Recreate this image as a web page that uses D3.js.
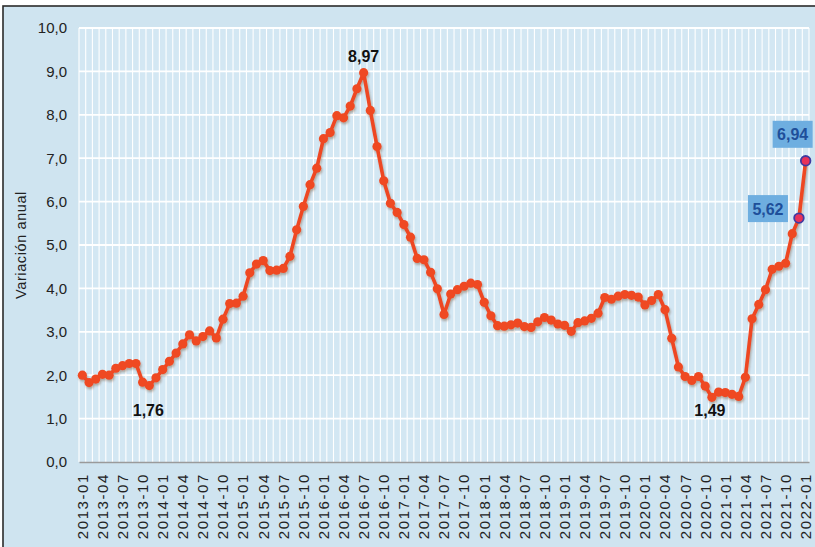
<!DOCTYPE html>
<html><head><meta charset="utf-8">
<script src="https://cdn.jsdelivr.net/npm/d3@7/dist/d3.min.js"></script>
<style>body{margin:0;background:#fff;overflow:hidden}</style>
</head><body>
<script>
const categories = [
"2013-01","2013-02","2013-03","2013-04","2013-05","2013-06","2013-07","2013-08","2013-09","2013-10","2013-11","2013-12",
"2014-01","2014-02","2014-03","2014-04","2014-05","2014-06","2014-07","2014-08","2014-09","2014-10","2014-11","2014-12",
"2015-01","2015-02","2015-03","2015-04","2015-05","2015-06","2015-07","2015-08","2015-09","2015-10","2015-11","2015-12",
"2016-01","2016-02","2016-03","2016-04","2016-05","2016-06","2016-07","2016-08","2016-09","2016-10","2016-11","2016-12",
"2017-01","2017-02","2017-03","2017-04","2017-05","2017-06","2017-07","2017-08","2017-09","2017-10","2017-11","2017-12",
"2018-01","2018-02","2018-03","2018-04","2018-05","2018-06","2018-07","2018-08","2018-09","2018-10","2018-11","2018-12",
"2019-01","2019-02","2019-03","2019-04","2019-05","2019-06","2019-07","2019-08","2019-09","2019-10","2019-11","2019-12",
"2020-01","2020-02","2020-03","2020-04","2020-05","2020-06","2020-07","2020-08","2020-09","2020-10","2020-11","2020-12",
"2021-01","2021-02","2021-03","2021-04","2021-05","2021-06","2021-07","2021-08","2021-09","2021-10","2021-11","2021-12",
"2022-01"];

const values = [
2.00,1.83,1.91,2.02,2.00,2.16,2.22,2.27,2.27,1.84,1.76,1.94,
2.13,2.32,2.51,2.72,2.93,2.79,2.89,3.02,2.86,3.29,3.65,3.66,
3.82,4.36,4.56,4.64,4.41,4.42,4.46,4.74,5.35,5.89,6.39,6.77,
7.45,7.59,7.98,7.93,8.20,8.60,8.97,8.10,7.27,6.48,5.96,5.75,
5.47,5.18,4.69,4.66,4.37,3.99,3.40,3.87,3.97,4.05,4.12,4.09,
3.68,3.37,3.14,3.13,3.16,3.20,3.12,3.10,3.23,3.33,3.27,3.18,
3.15,3.01,3.21,3.25,3.31,3.43,3.79,3.75,3.82,3.86,3.84,3.80,
3.62,3.72,3.86,3.51,2.85,2.19,1.97,1.88,1.97,1.75,1.49,1.61,
1.60,1.56,1.51,1.95,3.30,3.63,3.97,4.44,4.51,4.58,5.26,5.62,
6.94];

const yTicks = [0,1,2,3,4,5,6,7,8,9,10];
const xTickLabels = [
"2013-01","2013-04","2013-07","2013-10","2014-01","2014-04","2014-07","2014-10",
"2015-01","2015-04","2015-07","2015-10","2016-01","2016-04","2016-07","2016-10",
"2017-01","2017-04","2017-07","2017-10","2018-01","2018-04","2018-07","2018-10",
"2019-01","2019-04","2019-07","2019-10","2020-01","2020-04","2020-07","2020-10",
"2021-01","2021-04","2021-07","2021-10","2022-01"];

const plainLabelCats = ["2013-11","2016-07","2020-11"];
const plainLabelTexts = ["1,76","8,97","1,49"];
const boxLabelCats = ["2021-12","2022-01"];
const boxLabelTexts = ["5,62","6,94"];
const yTitle = "Variación anual";

(function draw() {
const W = 815, H = 547;
const svg = d3.select("body").append("svg").attr("width", W).attr("height", H)
  .style("font-family", "'Liberation Sans', Arial, sans-serif");

const defs = svg.append("defs");
const f = defs.append("filter").attr("id","sh").attr("x","-20%").attr("y","-20%").attr("width","140%").attr("height","140%");
f.append("feDropShadow").attr("dx",1).attr("dy",2).attr("stdDeviation",1.2)
  .attr("flood-color","#5a2a10").attr("flood-opacity",0.35);

// outer background + frame
svg.append("rect").attr("x",3).attr("y",6).attr("width",W+10).attr("height",H+10)
  .attr("fill","#cfe4f0").attr("stroke","#2b2b2b").attr("stroke-width",1.6);

const pLeft = 79, pRight = 809, pTop = 28, pBottom = 462;
const x = d3.scaleBand().domain(categories).range([pLeft, pRight]).paddingInner(0).paddingOuter(0);
const y = d3.scaleLinear().domain([0, 10]).range([pBottom, pTop]);
const cx = c => x(c) + x.bandwidth() / 2;

// plot area
svg.append("rect").attr("x",pLeft).attr("y",pTop).attr("width",pRight-pLeft).attr("height",pBottom-pTop)
  .attr("fill","#d3e7f3");

// vertical gridlines at band boundaries
const vlines = categories.map(c => x(c)).concat([pRight]);
svg.append("g").selectAll("line").data(vlines).join("line")
  .attr("x1", d => d).attr("x2", d => d).attr("y1", pTop).attr("y2", pBottom)
  .attr("stroke", "#ffffff").attr("stroke-width", 1.1);

// horizontal gridlines
svg.append("g").selectAll("line").data(yTicks.filter(d => d > 0)).join("line")
  .attr("x1", pLeft).attr("x2", pRight).attr("y1", d => y(d)).attr("y2", d => y(d))
  .attr("stroke", "#ffffff").attr("stroke-width", 1.8);

// y axis
const yAxis = svg.append("g").attr("transform", `translate(${pLeft},0)`)
  .call(d3.axisLeft(y).tickValues(yTicks).tickSize(0).tickPadding(12)
    .tickFormat(d => d.toFixed(1).replace(".", ",")));
yAxis.select(".domain").remove();
yAxis.selectAll("text").attr("font-size", 15).attr("fill", "#222").attr("font-family","'Liberation Sans', Arial, sans-serif");

// x axis
const xAxis = svg.append("g").attr("transform", `translate(0,${pBottom})`)
  .call(d3.axisBottom(x).tickValues(xTickLabels).tickSize(0));
xAxis.select(".domain").attr("stroke", "#9a9a9a").attr("stroke-width", 1.5);
xAxis.selectAll("text")
  .attr("transform", "rotate(-90)")
  .attr("x", -11).attr("y", 0).attr("dy", "0.36em")
  .style("text-anchor", "end")
  .attr("font-size", 15).attr("letter-spacing", "1.6px")
  .attr("fill", "#222").attr("font-family","'Liberation Sans', Arial, sans-serif");

// y title
svg.append("text").attr("transform", `translate(26,${(pTop+pBottom)/2}) rotate(-90)`)
  .attr("text-anchor", "middle").attr("font-size", 14.5).attr("fill", "#222")
  .attr("letter-spacing","0.6px")
  .text(yTitle);

// line
const data = categories.map((c, i) => ({c, v: values[i]}));
const g = svg.append("g").attr("filter", "url(#sh)");
g.append("path").datum(data)
  .attr("fill", "none").attr("stroke", "#ee4622").attr("stroke-width", 3.6)
  .attr("stroke-linejoin", "round")
  .attr("d", d3.line().x(d => cx(d.c)).y(d => y(d.v)));
g.selectAll("circle.pt").data(data.filter(d => !boxLabelCats.includes(d.c))).join("circle")
  .attr("class", "pt")
  .attr("cx", d => cx(d.c)).attr("cy", d => y(d.v)).attr("r", 4.6)
  .attr("fill", "#ef4a24");

// highlighted points
svg.selectAll("circle.hl").data(data.filter(d => boxLabelCats.includes(d.c))).join("circle")
  .attr("class", "hl")
  .attr("cx", d => cx(d.c)).attr("cy", d => y(d.v)).attr("r", 4.8)
  .attr("fill", "#e8325a").attr("stroke", "#3f3aa0").attr("stroke-width", 1.8);

// plain labels
plainLabelCats.forEach((c, i) => {
  const v = values[categories.indexOf(c)];
  const isPeak = v > 5;
  const px = cx(c) + (isPeak ? 0 : (c === "2013-11" ? -1 : -2));
  const py = isPeak ? y(v) - 11 : y(v) + (c === "2013-11" ? 30 : 19);
  svg.append("text").attr("x", px).attr("y", py)
    .attr("text-anchor", "middle").attr("font-size", 16).attr("font-weight", "bold")
    .attr("fill", "#111").attr("font-family","'Liberation Sans Narrow','Liberation Sans', Arial, sans-serif")
    .text(plainLabelTexts[i]);
});

// boxed labels
boxLabelCats.forEach((c, i) => {
  const v = values[categories.indexOf(c)];
  const bw = 40, bh = 27;
  const bx = c === "2022-01" ? cx(c) - 33 : cx(c) - 51;
  const by = c === "2022-01" ? y(v) - 40 : y(v) - 23;
  svg.append("rect").attr("x", bx).attr("y", by).attr("width", bw).attr("height", bh)
    .attr("fill", "#6eaee0");
  svg.append("text").attr("x", bx + bw/2).attr("y", by + bh/2 + 6)
    .attr("text-anchor", "middle").attr("font-size", 16).attr("font-weight", "bold")
    .attr("fill", "#1e4f9a").attr("font-family","'Liberation Sans Narrow','Liberation Sans', Arial, sans-serif")
    .text(boxLabelTexts[i]);
});
})();
</script>
</body></html>
